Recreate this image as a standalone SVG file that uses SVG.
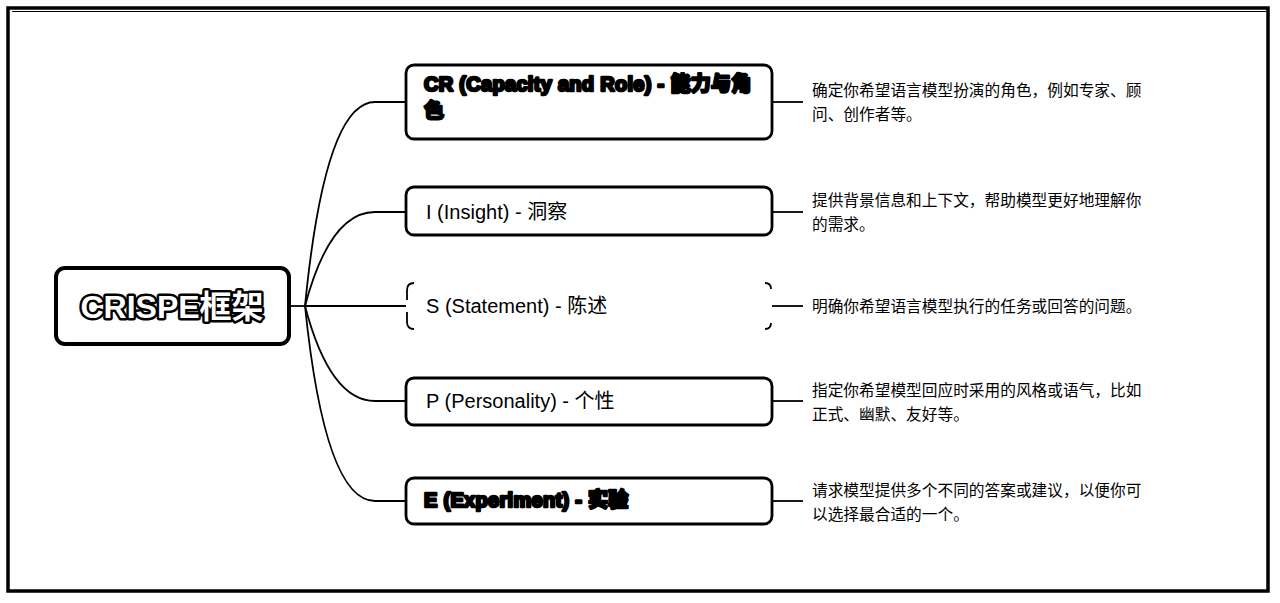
<svg xmlns="http://www.w3.org/2000/svg" width="1280" height="603" viewBox="0 0 1280 603">
<style>
.frame{fill:#fff;stroke:#000;stroke-width:3.5}
.box{fill:#fff;stroke:#000;stroke-width:2.8}
.root{fill:#fff;stroke:#000;stroke-width:4}
.out{fill:#fff;stroke:#000;stroke-width:2.6;paint-order:stroke;stroke-linejoin:round;font-weight:bold;letter-spacing:0.3px}
.lbl{font-family:"Liberation Sans","Noto Sans CJK SC",sans-serif;font-size:20px;fill:#000}
.title{font-family:"Liberation Sans","Noto Sans CJK SC",sans-serif;font-size:32px;fill:#fff;stroke:#000;stroke-width:5;paint-order:stroke;stroke-linejoin:round;font-weight:bold}
.desc{font-family:"Noto Sans CJK SC",sans-serif;font-size:15.7px;fill:#000}
.conn{fill:none;stroke:#000;stroke-width:1.8}
</style>
<rect class="frame" x="8" y="8" width="1260" height="583"/>
<line x1="12" y1="11.5" x2="1266" y2="11.5" stroke="#000" stroke-width="1"/>
<g id="connectors">
<path class="conn" d="M290,306 L305,306"/>
<path class="conn" d="M305,306 Q325,102 375,102 L406,102"/>
<path class="conn" d="M305,306 Q330,212 375,212 L406,212"/>
<path class="conn" d="M305,306 L406,306"/>
<path class="conn" d="M305,306 Q330,401 375,401 L406,401"/>
<path class="conn" d="M305,306 Q325,501 375,501 L406,501"/>
<path class="conn" d="M772,102 L803,102"/>
<path class="conn" d="M772,212 L803,212"/>
<path class="conn" d="M772,306 L803,306"/>
<path class="conn" d="M772,401 L803,401"/>
<path class="conn" d="M772,501 L803,501"/>
</g>
<g id="root">
<rect class="root" x="56" y="268" width="233" height="76" rx="9"/>
<text class="title" x="172" y="318" text-anchor="middle">CRISPE框架</text>
</g>
<g id="node-cr">
<rect class="box" x="406" y="65" width="366" height="74" rx="8"/>
<text class="lbl out" x="424" y="91">CR (Capacity and Role) - 能力与角</text>
<text class="lbl out" x="424" y="118">色</text>
</g>
<g id="node-i">
<rect class="box" x="406" y="187" width="366" height="48" rx="8"/>
<text class="lbl" x="426" y="219">I (Insight) - 洞察</text>
</g>
<g id="node-s">
<path class="conn" stroke-width="1.2" d="M407,300 L407,290 Q407,283 414,283 M407,312 L407,322 Q407,329 414,329 M765,283 Q771,283 771,289 M771,323 Q771,329 765,329"/>
<text class="lbl" x="426" y="313">S (Statement) - 陈述</text>
</g>
<g id="node-p">
<rect class="box" x="406" y="378" width="366" height="47" rx="8"/>
<text class="lbl" x="426" y="408">P (Personality) - 个性</text>
</g>
<g id="node-e">
<rect class="box" x="406" y="478" width="366" height="46" rx="8"/>
<text class="lbl out" x="424" y="507">E (Experiment) - 实验</text>
</g>
<g id="desc-cr"><text class="desc" x="812" y="96">确定你希望语言模型扮演的角色，例如专家、顾</text><text class="desc" x="812" y="120">问、创作者等。</text></g>
<g id="desc-i"><text class="desc" x="812" y="206">提供背景信息和上下文，帮助模型更好地理解你</text><text class="desc" x="812" y="230">的需求。</text></g>
<g id="desc-s"><text class="desc" x="812" y="312">明确你希望语言模型执行的任务或回答的问题。</text></g>
<g id="desc-p"><text class="desc" x="812" y="396">指定你希望模型回应时采用的风格或语气，比如</text><text class="desc" x="812" y="420">正式、幽默、友好等。</text></g>
<g id="desc-e"><text class="desc" x="812" y="496">请求模型提供多个不同的答案或建议，以便你可</text><text class="desc" x="812" y="520">以选择最合适的一个。</text></g>
</svg>
